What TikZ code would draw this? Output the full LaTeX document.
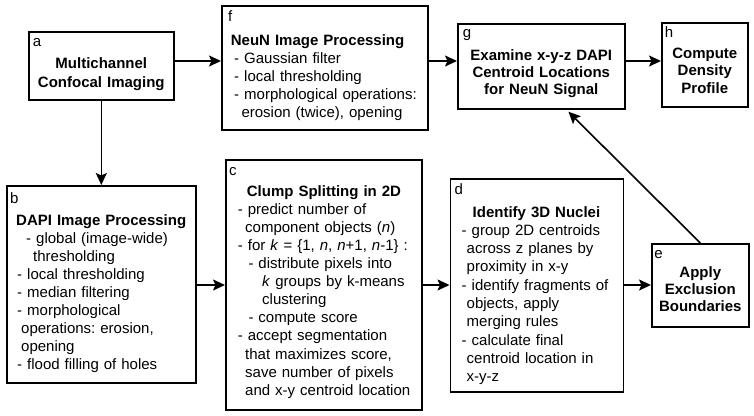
\documentclass[tikz,border=0pt]{standalone}
\usepackage{fontspec}
\setmainfont{Liberation Sans}
\usetikzlibrary{arrows.meta}
\frenchspacing

\begin{document}
\begin{tikzpicture}[x=1pt,y=-1pt,
  stage/.style={draw, line width=1.6pt, inner sep=0pt, anchor=north west},
  txt/.style={inner sep=0pt, anchor=base west, align=left, font=\fontsize{15}{#1}\selectfont},
  ctxt/.style={inner sep=0pt, anchor=base, align=center, font=\fontsize{15}{#1}\selectfont},
  flow/.style={line width=1.6pt, -{Stealth[length=12pt,width=11pt,inset=2.5pt]}}]
  \useasboundingbox (0,0) rectangle (754,415);

  % boxes
  \node[stage, minimum width=145pt, minimum height=68pt] (a) at (28,31) {};
  \node[stage, minimum width=189pt, minimum height=197pt] (b) at (6,185) {};
  \node[stage, minimum width=196pt, minimum height=250pt] (c) at (225,159) {};
  \node[stage, minimum width=173pt, minimum height=213pt] (d) at (449.5,178) {};
  \node[stage, minimum width=97pt, minimum height=83pt] (e) at (651,243) {};
  \node[stage, minimum width=206pt, minimum height=124pt] (f) at (221,5) {};
  \node[stage, minimum width=167pt, minimum height=85pt] (g) at (457,23) {};
  \node[stage, minimum width=86pt, minimum height=84pt] (h) at (661,22) {};

  % texts
  \node[ctxt=19, text width=137pt] (atext) at ([yshift=-15pt]a.north)
    {\makebox[\linewidth][l]{a}\\[3pt]\textbf{Multichannel}\\\textbf{Confocal Imaging}};

  \node[txt=17.9, text width=183pt] (btext) at ([shift={(4,18)}]b.north west)
    {b\\[5pt]
     \hspace*{6pt}\textbf{DAPI Image Processing}\\
     \hspace*{16pt}- global (image-wide)\\
     \hspace*{23pt}thresholding\\
     \hspace*{7pt}- local thresholding\\
     \hspace*{7pt}- median filtering\\
     \hspace*{7pt}- morphological\\
     \hspace*{11pt}operations: erosion,\\
     \hspace*{11pt}opening\\
     \hspace*{7pt}- flood filling of holes};

  \node[txt=18.1, text width=190pt] (ctext) at ([shift={(4,16)}]c.north west)
    {c\\[3pt]
     \hspace*{17.7pt}\textbf{Clump Splitting in 2D}\\
     \hspace*{8.7pt}- predict number of\\
     \hspace*{16pt}component objects (\textit{n})\\
     \hspace*{8.7pt}- for \textit{k} = \{1, \textit{n}, \textit{n}+1, \textit{n}-1\} :\\
     \hspace*{19.3pt}- distribute pixels into\\
     \hspace*{33pt}\textit{k} groups by k-means\\
     \hspace*{33pt}clustering\\
     \hspace*{19.3pt}- compute score\\
     \hspace*{8.7pt}- accept segmentation\\
     \hspace*{16pt}that maximizes score,\\
     \hspace*{16pt}save number of pixels\\
     \hspace*{16pt}and x-y centroid location};

  \node[txt=18.3, text width=165pt] (dtext) at ([shift={(5,16)}]d.north west)
    {d\\[4.7pt]
     \hspace*{18pt}\textbf{Identify 3D Nuclei}\\
     \hspace*{7pt}- group 2D centroids\\
     \hspace*{12pt}across z planes by\\
     \hspace*{12pt}proximity in x-y\\
     \hspace*{7pt}- identify fragments of\\
     \hspace*{12pt}objects, apply\\
     \hspace*{12pt}merging rules\\
     \hspace*{7pt}- calculate final\\
     \hspace*{12pt}centroid location in\\
     \hspace*{12pt}x-y-z};

  \node[ctxt=17.3, text width=92pt] (etext) at ([yshift=-15pt]e.north)
    {\makebox[\linewidth][l]{e}\\[2pt]\textbf{Apply}\\\textbf{Exclusion}\\\textbf{Boundaries}};

  \node[txt=18, text width=199pt] (ftext) at ([shift={(5,16)}]f.north west)
    {\hspace*{2pt}f\\[6pt]
     \hspace*{4.7pt}\textbf{NeuN Image Processing}\\
     \hspace*{8pt}- Gaussian filter\\
     \hspace*{8pt}- local thresholding\\
     \hspace*{8pt}- morphological operations:\\
     \hspace*{15.3pt}erosion (twice), opening};

  \node[ctxt=17.2, text width=157pt] (gtext) at ([yshift=-14pt]g.north)
    {\makebox[\linewidth][l]{g}\\[6pt]\textbf{Examine x-y-z DAPI}\\\textbf{Centroid Locations}\\\textbf{for NeuN Signal}};

  \node[ctxt=17.5, text width=80pt] (htext) at ([yshift=-15pt]h.north)
    {\makebox[\linewidth][l]{h}\\[3.5pt]\textbf{Compute}\\\textbf{Density}\\\textbf{Profile}};

  % connectors
  \coordinate (upper) at (0,61);
  \coordinate (lower) at (0,285);
  \draw[flow] (a.east |- upper) -- (f.west |- upper);
  \draw[flow] (f.east |- upper) -- (g.west |- upper);
  \draw[flow] (g.east |- upper) -- (h.west |- upper);
  \draw[flow] (a.south) -- (b.north);
  \draw[flow] (b.east |- lower) -- (c.west |- lower);
  \draw[flow] (c.east |- lower) -- (d.west |- lower);
  \draw[flow] (d.east |- lower) -- (e.west |- lower);
  \draw[flow, shorten >=3pt] (e.north) -- ([xshift=25pt]g.south);
\end{tikzpicture}
\end{document}
